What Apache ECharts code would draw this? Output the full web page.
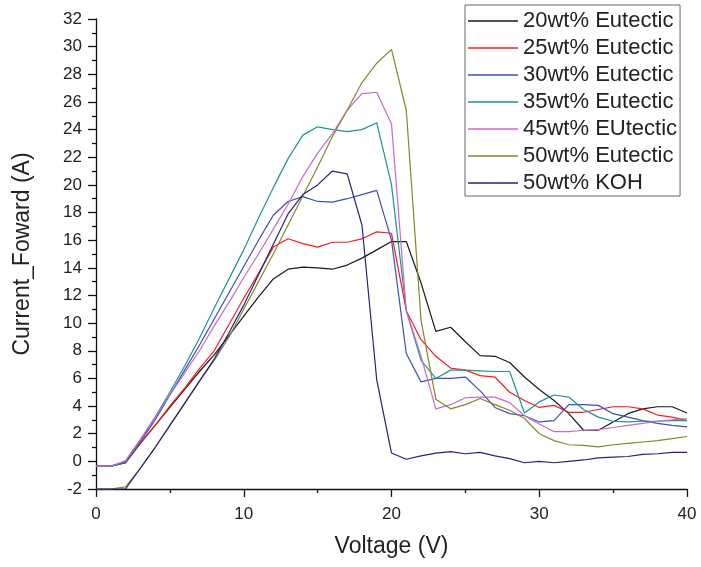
<!DOCTYPE html>
<html>
<head>
<meta charset="utf-8">
<script src="https://cdn.jsdelivr.net/npm/echarts@6/dist/echarts.min.js"></script>
<style>
html,body{margin:0;padding:0;background:#fff;}
#chart{width:701px;height:567px;}
</style>
</head>
<body>
<div id="chart"></div>
<script>
const voltage = [0,1,2,3,4,5,6,7,8,9,10,11,12,13,14,15,16,17,18,19,20,21,22,23,24,25,26,27,28,29,30,31,32,33,34,35,36,37,38,39,40];

const seriesNames = ["20wt% Eutectic","25wt% Eutectic","30wt% Eutectic","35wt% Eutectic","45wt% EUtectic","50wt% Eutectic","50wt% KOH"];
const seriesColors = ["#1a1a1a","#ff1a1a","#3a4fc0","#1a9590","#cc66cc","#86862a","#23237e"];

const eut20 = [-0.35,-0.35,-0.1,1.3,2.6,3.9,5.2,6.5,7.7,9.1,10.5,11.9,13.2,13.9,14.05,14.0,13.9,14.2,14.7,15.3,15.9,15.9,12.9,9.4,9.7,8.65,7.65,7.6,7.15,6.1,5.2,4.4,3.45,2.25,2.25,2.85,3.45,3.8,3.95,3.95,3.5];
const eut25 = [-0.35,-0.35,-0.1,1.3,2.6,4.0,5.3,6.7,8.0,9.9,11.8,13.6,15.5,16.1,15.75,15.5,15.85,15.85,16.1,16.6,16.5,10.9,8.8,7.6,6.75,6.6,6.2,6.1,5.0,4.4,3.9,4.05,3.55,3.55,3.75,3.95,3.95,3.8,3.35,3.2,2.95];
const eut30 = [-0.35,-0.35,-0.1,1.4,3.0,4.8,6.6,8.4,10.3,12.2,14.1,16.0,17.8,18.8,19.15,18.8,18.75,19.0,19.3,19.6,16.0,7.8,5.75,6.0,6.0,6.1,5.1,3.9,3.45,3.3,2.85,2.95,4.1,4.1,4.05,3.45,3.2,2.95,2.75,2.6,2.5];
const eut35 = [-0.35,-0.35,0.0,1.5,3.2,5.0,6.9,8.9,11.1,13.2,15.3,17.6,19.8,21.9,23.6,24.2,24.0,23.85,24.0,24.5,20.0,10.9,7.3,6.0,6.6,6.6,6.55,6.5,6.5,3.5,4.3,4.8,4.65,3.75,3.2,2.9,2.85,2.9,2.9,2.95,2.95];
const eut45 = [-0.35,-0.35,0.05,1.6,3.2,4.8,6.4,8.0,9.8,11.5,13.3,15.0,16.8,18.6,20.6,22.3,23.7,25.4,26.6,26.7,24.4,10.9,7.6,3.8,4.1,4.6,4.65,4.65,4.25,3.3,2.7,2.15,2.15,2.25,2.3,2.45,2.6,2.75,2.9,3.0,3.1];
const eut50 = [-2.0,-2.0,-1.85,-0.5,1.0,2.6,4.2,5.8,7.3,9.0,11.0,13.0,15.0,17.1,19.2,21.3,23.5,25.4,27.4,28.8,29.8,25.4,10.2,4.5,3.8,4.1,4.55,4.1,3.7,3.1,2.0,1.5,1.2,1.15,1.05,1.2,1.3,1.4,1.5,1.65,1.8];
const koh50 = [-2.0,-2.0,-2.0,-0.5,1.0,2.6,4.2,5.8,7.4,9.3,11.3,13.5,15.7,17.9,19.3,20.0,21.0,20.8,17.1,5.9,0.6,0.15,0.4,0.6,0.7,0.55,0.65,0.4,0.2,-0.1,0.0,-0.1,0.0,0.1,0.25,0.3,0.35,0.5,0.55,0.65,0.65];

const seriesValues = [eut20,eut25,eut30,eut35,eut45,eut50,koh50];

const fontFam = "'Liberation Sans', Arial, sans-serif";
const chart = echarts.init(document.getElementById('chart'));

chart.setOption({
  animation:false,
  backgroundColor:'#fff',
  color: seriesColors,
  grid:{left:96,right:14,top:19,bottom:78,containLabel:false},
  legend:{
    orient:'vertical',
    left:465, top:5,
    padding:[5,3,2,3],
    borderColor:'#666', borderWidth:1,
    backgroundColor:'#fff',
    itemWidth:50, itemHeight:1.5, itemGap:5,
    icon:'rect',
    textStyle:{fontFamily:fontFam,fontSize:22,lineHeight:22,color:'#222'},
    data: seriesNames
  },
  xAxis:{
    type:'value', min:0, max:40, interval:10,
    name:'Voltage (V)', nameLocation:'middle', nameGap:46,
    nameTextStyle:{fontFamily:fontFam,fontSize:23,color:'#222'},
    axisLine:{onZero:false,lineStyle:{color:'#111',width:1.3}},
    axisTick:{show:true,inside:false,length:8,lineStyle:{color:'#111',width:1.3}},
    minorTick:{show:true,splitNumber:2,length:4,lineStyle:{color:'#111',width:1.3}},
    splitLine:{show:false},
    axisLabel:{fontFamily:fontFam,fontSize:17,color:'#222',margin:17}
  },
  yAxis:{
    type:'value', min:-2, max:32, interval:2,
    name:'Current_Foward (A)', nameLocation:'middle', nameGap:62, nameRotate:90,
    nameTextStyle:{fontFamily:fontFam,fontSize:23,color:'#222'},
    axisLine:{show:true,onZero:false,lineStyle:{color:'#111',width:1.3}},
    axisTick:{show:true,inside:false,length:8,lineStyle:{color:'#111',width:1.3}},
    minorTick:{show:true,splitNumber:2,length:4,lineStyle:{color:'#111',width:1.3}},
    splitLine:{show:false},
    axisLabel:{fontFamily:fontFam,fontSize:17,color:'#222',margin:14}
  },
  series: seriesNames.map((n,i)=>({
    name:n, type:'line', symbol:'none', showSymbol:false,
    clip:false,
    lineStyle:{width:1.2,color:seriesColors[i]},
    itemStyle:{color:seriesColors[i]},
    data: voltage.map((v,j)=>[v, seriesValues[i][j]])
  }))
});
</script>
</body>
</html>
